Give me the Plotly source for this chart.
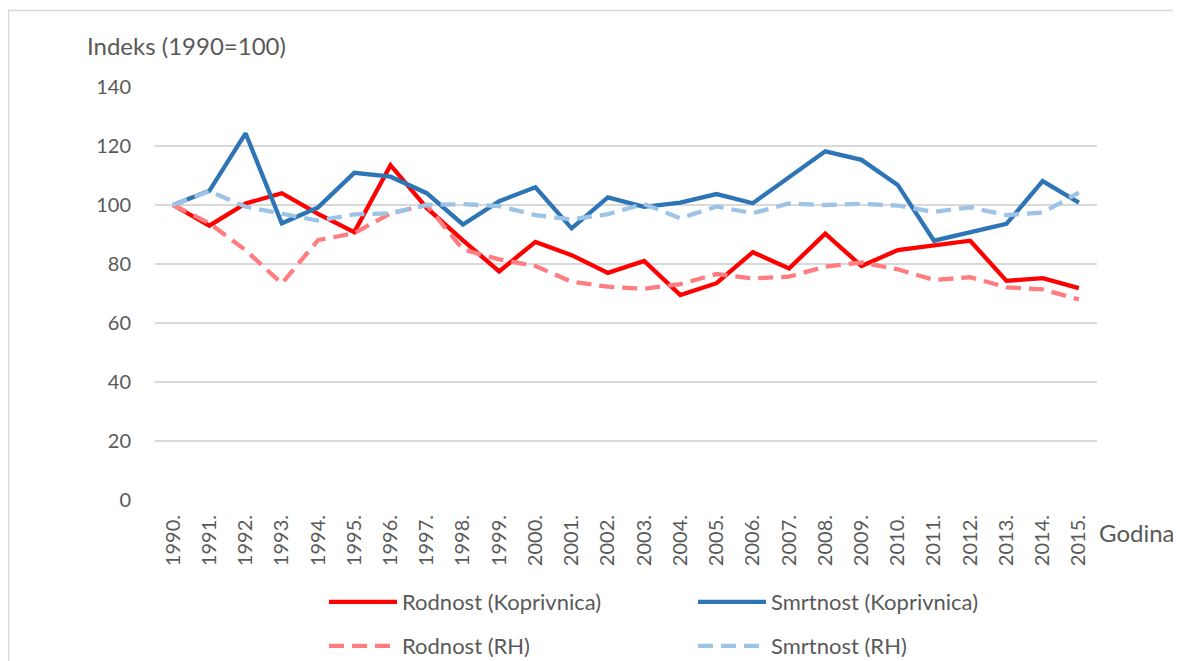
import plotly.graph_objects as go

years = [f"{y}." for y in range(1990, 2016)]

rodnost_kc = [100, 93, 100.5, 104, 97, 90.8, 113.5, 99, 88, 77.5, 87.5, 83, 77, 81,
              69.5, 73.5, 84, 78.5, 90.3, 79.3, 84.7, 86.2, 87.9, 74.3, 75.2, 71.8]
smrtnost_kc = [100, 104.8, 124.3, 93.8, 99.2, 110.9, 109.6, 104, 93.4, 101.3, 106, 92.1,
               102.6, 99.4, 100.8, 103.7, 100.6, 109.3, 118.2, 115.3, 106.8, 87.9, 90.7,
               93.6, 108.1, 100.8]
rodnost_rh = [100, 93.8, 84.7, 73.4, 88.1, 90.4, 97.2, 100, 84.9, 81.6, 79.3, 74, 72.3,
              71.6, 73.2, 76.6, 75.1, 75.7, 79.1, 80.5, 78.2, 74.6, 75.5, 72.1, 71.4, 68]
smrtnost_rh = [100, 104.7, 99.4, 97.2, 94.7, 96.8, 97.2, 100, 100.3, 99.6, 96.6, 95.1,
               96.9, 100.4, 95.5, 99.5, 97.2, 100.5, 100, 100.4, 99.8, 97.7, 99.2, 96.6,
               97.4, 104.2]

y_ticks = [0, 20, 40, 60, 80, 100, 120, 140]

FONT = "Lato"
TXT = "#595959"
DASH = "15px,8px"
LW = 4.3

fig = go.Figure()
fig.add_trace(go.Scatter(x=years, y=rodnost_kc, name="Rodnost (Koprivnica)", mode="lines",
                         line=dict(color="#FF0000", width=LW), legend="legend"))
fig.add_trace(go.Scatter(x=years, y=smrtnost_kc, name="Smrtnost (Koprivnica)", mode="lines",
                         line=dict(color="#2E75B6", width=LW), legend="legend"))
fig.add_trace(go.Scatter(x=years, y=rodnost_rh, name="Rodnost (RH)", mode="lines",
                         line=dict(color="#FF7C80", width=LW, dash=DASH), legend="legend2"))
fig.add_trace(go.Scatter(x=years, y=smrtnost_rh, name="Smrtnost (RH)", mode="lines",
                         line=dict(color="#9DC3E6", width=LW, dash=DASH), legend="legend2"))

# The page body has an 8px margin, so the figure is drawn at (8, 8) in the window.
OFF = 8
W, H = 1181 - OFF, 661 - OFF
L = 155 - OFF
T = 87 - OFF
R = W - (1097 - OFF)
B = H - (500 - OFF)
pw = W - L - R
ph = H - T - B


def px_x(x):  # window pixel -> paper x
    return (x - OFF - L) / pw


def px_y(y):  # window pixel -> paper y
    return (H - B - (y - OFF)) / ph


legend_common = dict(orientation="h", xanchor="left", yanchor="middle",
                     font=dict(family=FONT, size=22, color=TXT),
                     entrywidth=286, entrywidthmode="pixels",
                     itemwidth=68, bgcolor="rgba(0,0,0,0)")

fig.update_layout(
    width=W, height=H,
    margin=dict(l=L, r=R, t=T, b=B, autoexpand=False),
    paper_bgcolor="white", plot_bgcolor="white",
    font=dict(family=FONT, size=20, color=TXT),
    showlegend=True,
    legend=dict(x=px_x(324), y=px_y(602), **legend_common),
    legend2=dict(x=px_x(324), y=px_y(646), **legend_common),
    xaxis=dict(type="category", tickangle=-90, showgrid=False, zeroline=False,
               showline=False, ticks="", tickfont=dict(family=FONT, size=20, color=TXT),
               range=[-0.5, len(years) - 0.5], ticklabelstandoff=10),
    yaxis=dict(range=[0, 140], tickvals=y_ticks, showgrid=True, gridcolor="#D9D9D9",
               gridwidth=1.5, zeroline=False, showline=False, ticks="",
               tickfont=dict(family=FONT, size=20, color=TXT), ticklabelstandoff=23),
    annotations=[
        dict(text="Indeks (1990=100)", xref="paper", yref="paper", x=px_x(85), y=px_y(45),
             xanchor="left", yanchor="middle", showarrow=False,
             font=dict(family=FONT, size=24, color=TXT)),
        dict(text="Godina", xref="paper", yref="paper", x=px_x(1097), y=px_y(532),
             xanchor="left", yanchor="middle", showarrow=False,
             font=dict(family=FONT, size=24, color=TXT)),
    ],
    shapes=[
        dict(type="rect", xref="paper", yref="paper", x0=px_x(8.5), x1=px_x(1300),
             y0=px_y(800), y1=px_y(10.5), line=dict(color="#D9D9D9", width=1.5),
             fillcolor="rgba(0,0,0,0)", layer="below"),
    ],
)

fig.write_html("out.html")
